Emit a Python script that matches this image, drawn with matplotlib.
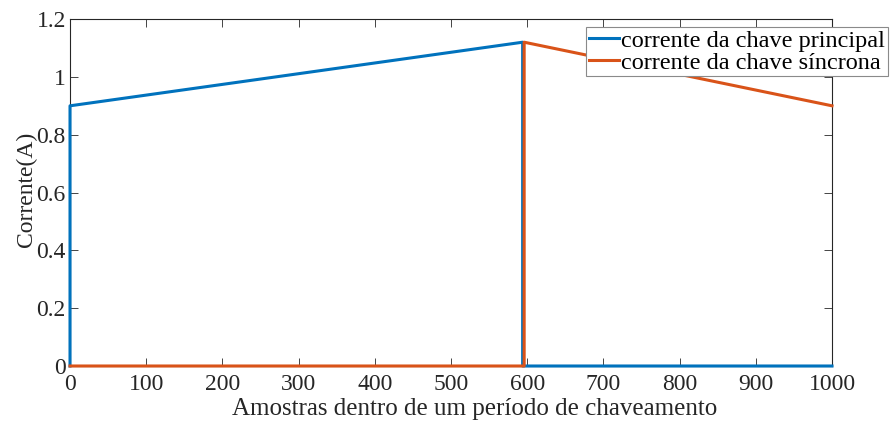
import matplotlib
matplotlib.use('Agg')
import matplotlib.pyplot as plt

# data
x_principal = [0, 0, 594, 594, 1000]
y_principal = [0, 0.9, 1.12, 0, 0]
x_sincrona = [0, 596, 596, 1000]
y_sincrona = [0, 0, 1.12, 0.9]

xticks = [0, 100, 200, 300, 400, 500, 600, 700, 800, 900, 1000]
yticks = [0, 0.2, 0.4, 0.6, 0.8, 1.0, 1.2]
ytick_labels = ['0', '0.2', '0.4', '0.6', '0.8', '1', '1.2']

plt.rcParams['font.family'] = ['Liberation Serif', 'DejaVu Serif']
txt = '#262626'

fig = plt.figure(figsize=(8.93, 4.24), dpi=100)
ax = fig.add_axes([0.0784, 0.1368, 0.8533, 0.8182])

ax.plot(x_principal, y_principal, color='#0072BD', lw=2.2, zorder=3,
        clip_on=False, label='corrente da chave principal')
ax.plot(x_sincrona, y_sincrona, color='#D95319', lw=2.2, zorder=3,
        clip_on=False, label='corrente da chave síncrona')

ax.set_xlim(0, 1000)
ax.set_ylim(0, 1.2)
ax.set_xticks(xticks)
ax.set_yticks(yticks)
ax.set_yticklabels(ytick_labels)
ax.tick_params(direction='in', length=6, width=0.6, colors=txt,
               labelsize=17, top=True, right=True, labeltop=False,
               labelright=False)
ax.tick_params(axis='x', pad=6)
ax.tick_params(axis='y', pad=3)
for s in ax.spines.values():
    s.set_color(txt)
    s.set_linewidth(0.8)

ax.set_xlabel('Amostras dentro de um período de chaveamento',
              fontsize=18, color=txt, labelpad=2)
ax.xaxis.label.set_x(0.5315)
ax.set_ylabel('Corrente(A)', fontsize=17, color=txt)
ax.yaxis.set_label_coords(-0.043, 0.51)

leg = ax.legend(loc='upper right', bbox_to_anchor=(1.073, 0.977),
                fontsize=17.5, handlelength=1.25, handletextpad=0.1,
                labelspacing=0.0, borderpad=0.1, borderaxespad=0,
                fancybox=False, framealpha=1, edgecolor='#8a8a8a')
leg.get_frame().set_linewidth(0.8)
leg.set_zorder(5)
for t in leg.get_texts():
    t.set_color('black')

fig.savefig('out.png', dpi=100)
